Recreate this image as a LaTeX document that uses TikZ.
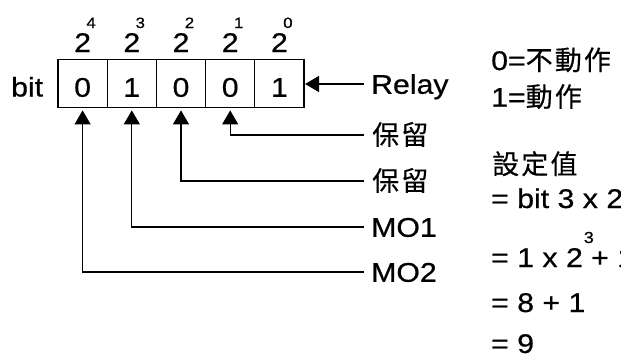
\documentclass[tikz,border=0pt]{standalone}
\usepackage{fontspec}
\setmainfont[FakeStretch=1.12, FakeBold=0.6]{Liberation Sans}
\newfontfamily\cjk[LetterSpace=8, FakeBold=0.4]{Noto Sans CJK TC}
\usetikzlibrary{arrows.meta}
\newcommand\sups[1]{\rlap{\kern1pt\raisebox{24pt}{\fontsize{16}{16}\selectfont #1}}}
\tikzset{
  bitcell/.style={draw, line width=1.1pt, minimum width=49.2pt, minimum height=48.7pt, inner sep=0pt, text height=26.5pt, text depth=0pt, font=\fontsize{27}{30}\selectfont},
  lbl/.style={anchor=west, inner sep=0pt, text height=19.5pt, text depth=0pt, font=\fontsize{27}{30}\selectfont},
  note/.style={anchor=base west, inner sep=0pt, font=\fontsize{27}{30}\selectfont},
  sig/.style={line width=1.1pt, -{Triangle[length=14pt,width=16pt]}, shorten >=2pt},
}
\begin{document}
\begin{tikzpicture}[x=1pt, y=-1pt]
  \useasboundingbox (0,0) rectangle (621,356);

  % Register cells
  \foreach \b [count=\i from 0] in {0,1,0,0,1}
    \node[bitcell] (c\i) at (82.6+49.2*\i, 83.5) {\b};
  \node[anchor=base west, inner sep=0pt, font=\fontsize{27}{30}\selectfont] (bitlbl) at (11, 96.5) {bit};

  % Weights
  \foreach \i in {0,...,4} {
    \pgfmathtruncatemacro\e{4-\i}
    \node[anchor=base, inner sep=0pt, font=\fontsize{27}{30}\selectfont] (p\i) at (82.6+49.2*\i, 52) {2};
    \node[anchor=base, inner sep=0pt, font=\fontsize{15}{15}\selectfont] (e\i) at (91.1+49.2*\i, 28) {\e};
  }

  % Signal labels
  \node[lbl] (relay) at (371,84) {Relay};
  \node[lbl] (res1) at (372,135) {\cjk 保留};
  \node[lbl] (res2) at (372,181) {\cjk 保留};
  \node[lbl] (mo1) at (371,227) {MO1};
  \node[lbl] (mo2) at (371,272) {MO2};

  % Connectors
  \draw[sig, shorten >=0.5pt] ([xshift=-7pt]relay.west) -- (relay.west -| c4.east);
  \draw[sig] ([xshift=-8pt]res1.west) -| (c3.south);
  \draw[sig] ([xshift=-8pt]res2.west) -| (c2.south);
  \draw[sig] ([xshift=-7pt]mo1.west) -| (c1.south);
  \draw[sig] ([xshift=-7pt]mo2.west) -| (c0.south);

  % Notes
  \node[note] (off) at (491,70) {0=\cjk 不動作};
  \node[note] (on) at (491,106.7) {1=\cjk 動作};
  \node[note] (setv) at (492,174) {\cjk 設定值};
  \node[note] (eq1) at (491,208) {= bit 3 x 2\sups{3} + bit 0 x 2\sups{0}};
  \node[note] (eq2) at (491,267) {= 1 x 2\sups{3} + 1 x 2\sups{0}};
  \node[note] (eq3) at (491,312) {= 8 + 1};
  \node[note] (eq4) at (491,353) {= 9};
\end{tikzpicture}
\end{document}
